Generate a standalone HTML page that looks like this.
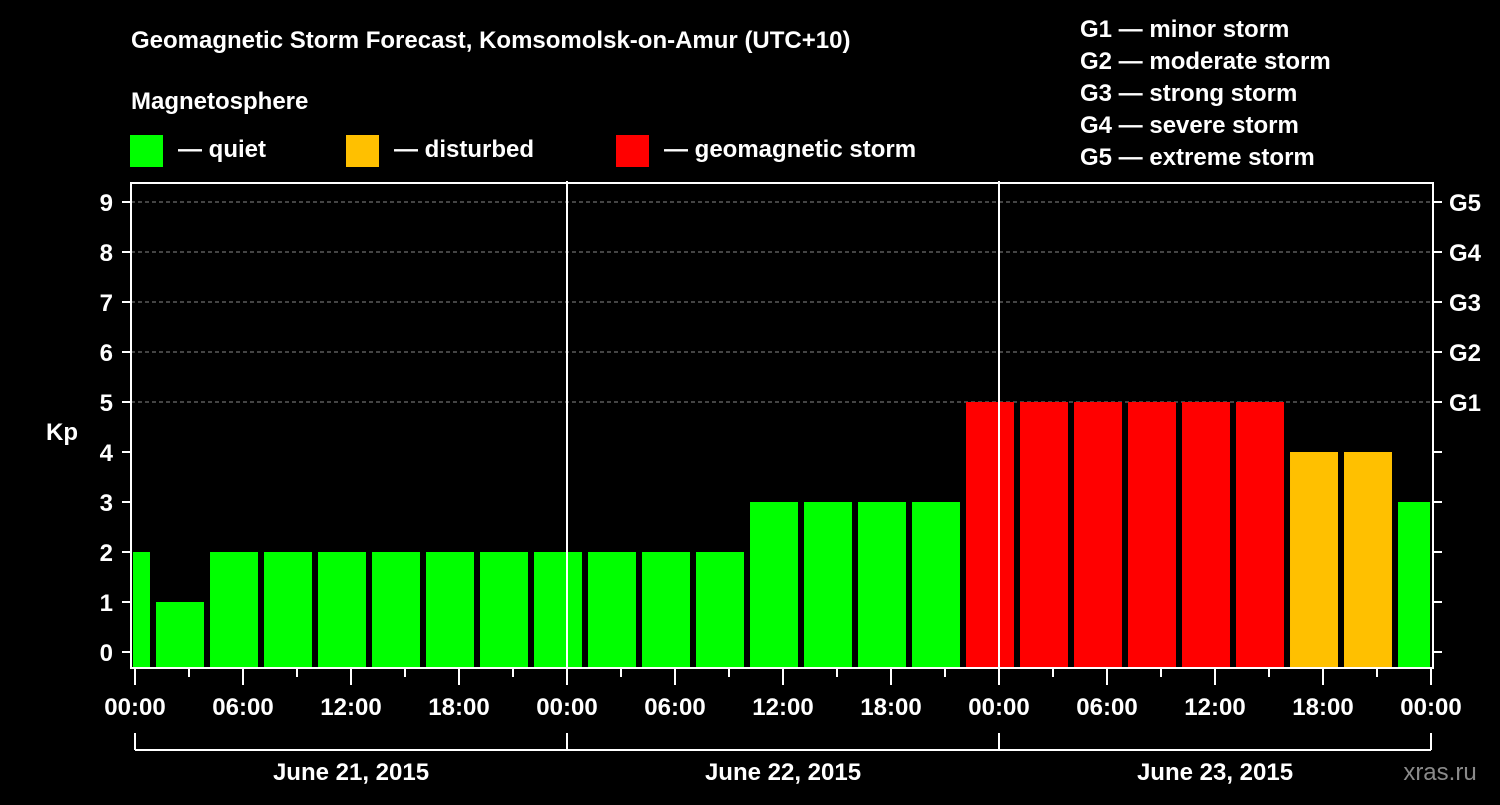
<!DOCTYPE html>
<html><head><meta charset="utf-8"><style>
body{margin:0;background:#000;width:1500px;height:800px;overflow:hidden}
svg text{font-family:"Liberation Sans",sans-serif;font-weight:bold;fill:#fff}
</style></head><body>
<svg id="c" width="1500" height="800">
<text x="131" y="48" font-size="24">Geomagnetic Storm Forecast, Komsomolsk-on-Amur (UTC+10)</text>
<text x="131" y="109" font-size="24">Magnetosphere</text>
<rect x="130" y="135" width="33" height="32" fill="#00ff00"/>
<text x="178" y="157" font-size="24">— quiet</text>
<rect x="346" y="135" width="33" height="32" fill="#ffc000"/>
<text x="394" y="157" font-size="24">— disturbed</text>
<rect x="616" y="135" width="33" height="32" fill="#ff0000"/>
<text x="664" y="157" font-size="24">— geomagnetic storm</text>
<g font-size="24">
<text x="1080" y="37">G1 — minor storm</text>
<text x="1080" y="69">G2 — moderate storm</text>
<text x="1080" y="101">G3 — strong storm</text>
<text x="1080" y="133">G4 — severe storm</text>
<text x="1080" y="165">G5 — extreme storm</text>
</g>
<g id="plot"></g>
<text x="62" y="440" font-size="24" text-anchor="middle">Kp</text>
<text x="1440" y="780" font-size="24" text-anchor="middle" fill="#888" style="fill:#8a8a8a;font-weight:normal">xras.ru</text>
</svg>
<script>
const kpValues=[2,1,2,2,2,2,2,2,2,2,2,2,3,3,3,3,5,5,5,5,5,5,4,4,3];
const yTicks=[0,1,2,3,4,5,6,7,8,9];
const gLabels=["G1","G2","G3","G4","G5"];
const gLevels=[5,6,7,8,9];
const xTickLabels=["00:00","06:00","12:00","18:00","00:00","06:00","12:00","18:00","00:00","06:00","12:00","18:00","00:00"];
const dayLabels=["June 21, 2015","June 22, 2015","June 23, 2015"];
const NS="http://www.w3.org/2000/svg";
const L=131,R=1433,T=183,B=668,X0=135,HPX=18;
const xs=h=>X0+h*HPX, ys=v=>652-v*50;
const g=document.getElementById('plot');
function mk(t,a,p){const e=document.createElementNS(NS,t);for(const k in a)e.setAttribute(k,a[k]);(p||g).appendChild(e);return e;}
// grid
gLevels.forEach(v=>{const e=mk('line',{x1:L,x2:R,y1:ys(v),y2:ys(v),stroke:'#888','stroke-dasharray':'4,3','stroke-width':1});

});
// bars
kpValues.forEach((v,k)=>{const c=3*k-0.5;let x1=Math.max(xs(c-1.333),L+2),x2=Math.min(xs(c+1.333),R-3);
const col=v>=5?'#ff0000':(v>=4?'#ffc000':'#00ff00');
const e=mk('rect',{x:x1,y:ys(v),width:x2-x1,height:B-ys(v),fill:col});

});
// day separators
[24,48].forEach(h=>{const e=mk('line',{x1:xs(h),x2:xs(h),y1:T-2,y2:B,stroke:'#fff','stroke-width':2});

});
// frame
const f=mk('rect',{x:L,y:T,width:R-L,height:B-T,fill:'none',stroke:'#fff','stroke-width':2});


// y ticks
yTicks.forEach(v=>{mk('line',{x1:L-9,x2:L,y1:ys(v),y2:ys(v),stroke:'#fff','stroke-width':2});
mk('line',{x1:R,x2:R+9,y1:ys(v),y2:ys(v),stroke:'#fff','stroke-width':2});
const t=mk('text',{x:113,y:ys(v)+9,'font-size':24,'text-anchor':'end'});t.textContent=v;

});
gLabels.forEach((s,i)=>{const t=mk('text',{x:1449,y:ys(gLevels[i])+9,'font-size':24});t.textContent=s;

});
// x ticks
for(let h=0;h<=72;h+=3){const maj=h%6==0;mk('line',{x1:xs(h),x2:xs(h),y1:B,y2:B+(maj?17:9),stroke:'#fff','stroke-width':2});}
xTickLabels.forEach((s,i)=>{const t=mk('text',{x:xs(i*6),y:715,'font-size':24,'text-anchor':'middle'});t.textContent=s;

});
// day bracket
mk('line',{x1:xs(0),x2:xs(72),y1:750,y2:750,stroke:'#fff','stroke-width':2});
[0,24,48,72].forEach(h=>mk('line',{x1:xs(h),x2:xs(h),y1:733,y2:750,stroke:'#fff','stroke-width':2}));
dayLabels.forEach((s,i)=>{const t=mk('text',{x:xs(i*24+12),y:780,'font-size':24,'text-anchor':'middle'});t.textContent=s;

});
</script>
</body></html>
